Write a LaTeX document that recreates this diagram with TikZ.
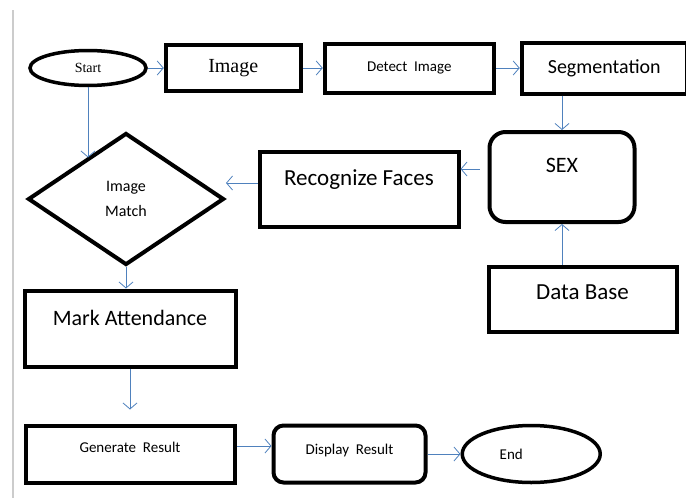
\documentclass[tikz,border=0pt]{standalone}
\usepackage{fontspec}
\setmainfont{Carlito}
\newfontfamily\seriffam{Liberation Serif}
\usepackage{tikz}
\usepackage{xcolor}
\usetikzlibrary{shapes, shapes.geometric, arrows.meta, calc, positioning}
\definecolor{flowblue}{RGB}{79,129,189}
\tikzset{
  box/.style={draw, rectangle, line width=4pt, inner sep=2pt},
  roundbox/.style={box, rounded corners=12pt},
  term/.style={draw, ellipse, line width=3.5pt, inner sep=1pt},
  flow/.style={-{Straight Barb[length=6pt, width=14pt]}, draw=flowblue, line width=0.8pt}
}

\begin{document}
\begin{tikzpicture}[x=1pt, y=-1pt]
        \useasboundingbox (0,0) rectangle (686,498);
        \draw [black!20, line width=2pt] (13,10) -- (13,498);

        % top row
        \node [term, minimum width=116pt, minimum height=35pt, font=\seriffam\fontsize{14}{16}\selectfont] (Start) at (88,68) {Start};
        \node [box, right=16pt of Start, minimum width=135pt, minimum height=46pt, font=\seriffam\fontsize{20}{24}\selectfont] (Image) {Image};
        \node [box, right=20pt of Image, minimum width=169pt, minimum height=49pt, font=\fontsize{15}{18}\selectfont] (Detect) {Detect\ \ Image};
        \node [box, right=24pt of Detect, minimum width=165pt, minimum height=51pt, font=\fontsize{20}{24}\selectfont] (Seg) {Segmentation};

        % middle
        \node [roundbox, rounded corners=16pt, minimum width=145pt, minimum height=90pt, text depth=24pt, font=\fontsize{22}{26}\selectfont] (Sex) at (562,177) {SEX};
        \node [box, minimum width=199pt, minimum height=75pt, text depth=22pt, font=\fontsize{23}{27}\selectfont] (Recog) at (359,189) {Recognize Faces};
        \node [diamond, draw, line width=4pt, minimum width=196pt, minimum height=132pt, align=center, font=\fontsize{16}{25}\selectfont] (Match) at (126,199) {Image\\Match};
        \node [box, minimum width=188pt, minimum height=65pt, text depth=14pt, font=\fontsize{23}{27}\selectfont] (DB) at (582.5,299) {Data Base};
        \node [box, minimum width=211pt, minimum height=76pt, text depth=22pt, font=\fontsize{22}{26}\selectfont] (Mark) at (130,328.5) {Mark Attendance};

        % bottom row
        \node [box, below=55pt of Mark, minimum width=209pt, minimum height=57pt, text depth=14pt, font=\fontsize{15}{18}\selectfont] (Gen) {Generate\ \ Result};
        \node [roundbox, rounded corners=10pt, right=35pt of Gen, minimum width=152pt, minimum height=57pt, text depth=10pt, font=\fontsize{15}{18}\selectfont] (Disp) {Display\ \ Result};
        \node [term, right=33pt of Disp, minimum width=138pt, minimum height=57pt, font=\fontsize{15}{18}\selectfont] (End) {End\kern40pt};

        % connectors
        \draw [flow] (Start) -- (Image);
        \draw [flow] (Image) -- (Detect);
        \draw [flow] (Detect) -- (Seg);
        \draw [flow] (Sex.north |- Seg.south) -- (Sex.north);
        \draw [flow] (DB.north -| Sex.south) -- (Sex.south);
        \draw [flow, shorten <=8pt] ([yshift=8pt]Sex.west) -- ([yshift=8pt]Sex.west -| Recog.east);
        \draw [flow] ([yshift=6pt]Recog.west) -- ([yshift=6pt]Recog.west -| Match.east);
        \coordinate (m1) at ($(Match.west)!0.61!(Match.north)$);
        \draw [flow] (Start.south) -- (Start.south |- m1);
        \draw [flow] (Match.south) -- (Match.south |- Mark.north);
        \draw [flow, shorten >=14pt] (Mark) -- (Gen);
        \draw [flow] ([yshift=8pt]Gen.east) -- ([yshift=8pt]Gen.east -| Disp.west);
        \draw [flow] (Disp) -- (End);
\end{tikzpicture}
\end{document}
